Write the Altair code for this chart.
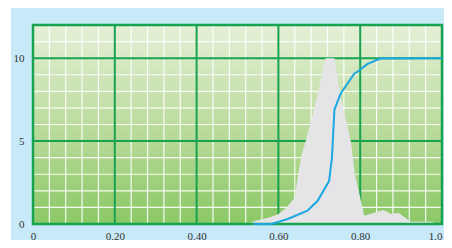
import altair as alt
import pandas as pd

# ---- data ----
area_x = [0.52, 0.545, 0.58, 0.60, 0.62, 0.64, 0.648, 0.657, 0.667, 0.693, 0.715, 0.737,
          0.753, 0.768, 0.777, 0.787, 0.81, 0.83, 0.856, 0.876, 0.893, 0.924, 0.975, 0.985]
area_y = [0.0, 0.2, 0.4, 0.6, 1.0, 1.6, 3.0, 4.2, 5.0, 7.5, 10.0, 10.0,
          7.5, 6.0, 5.0, 3.0, 0.5, 0.65, 0.84, 0.6, 0.68, 0.14, 0.14, 0.0]

line_x = [0.54, 0.583, 0.623, 0.671, 0.696, 0.724, 0.731, 0.734, 0.737, 0.753, 0.785,
          0.80, 0.817, 0.849, 1.0]
line_y = [0.0, 0.0, 0.3, 0.8, 1.4, 2.6, 4.0, 5.5, 6.9, 7.9, 9.05, 9.3, 9.64, 9.98, 10.0]

x_ticks = [0, 0.2, 0.4, 0.6, 0.8, 1.0]
x_tick_labels = ["0", "0,20", "0,40", "0,60", "0,80", "1,0"]
y_ticks = [0, 5, 10]
x_minor = [0.04, 0.08, 0.12, 0.16, 0.24, 0.28, 0.32, 0.36, 0.44, 0.48, 0.52, 0.56,
           0.64, 0.68, 0.72, 0.76, 0.84, 0.88, 0.92, 0.96]
y_minor = [1, 2, 3, 4, 6, 7, 8, 9, 11]
x_major = [0.2, 0.4, 0.6, 0.8]
y_major = [5, 10]

W, H = 409, 199
PL, PT, PR, PB = 25, 17, 2, 16
FONT = "Liberation Sans Narrow"

xscale = alt.Scale(domain=[0, 1], nice=False, zero=False)
yscale = alt.Scale(domain=[0, 12], nice=False, zero=False)

label_arr = "[" + ",".join("'%s'" % s for s in x_tick_labels) + "]"
xaxis = alt.Axis(values=x_ticks, title=None, grid=False, domain=False, ticks=False,
                 labelExpr=label_arr + "[round(datum.value*5)]",
                 labelAlign={"expr": "datum.value == 1 ? 'right' : 'center'"},
                 labelFont=FONT, labelFontSize=11, labelColor="#333333",
                 labelPadding=6, labelFlush=False, labelOverlap=False, zindex=2)
yaxis = alt.Axis(values=y_ticks, title=None, grid=False, domain=False, ticks=False,
                 labelFont=FONT, labelFontSize=11, labelColor="#333333",
                 labelPadding=9, labelFlush=False, labelOverlap=False, zindex=2)


def X(field):
    return alt.X(field, type="quantitative", scale=xscale, axis=xaxis)


def Y(field):
    return alt.Y(field, type="quantitative", scale=yscale, axis=yaxis)


one = alt.Data(values=[{}])

bg = alt.Chart(one).mark_rect(color="#c7e9f8").encode(
    x=alt.value(-22), x2=alt.value(W + PR), y=alt.value(-PT), y2=alt.value(H + PB))

grad = alt.Chart(one).mark_rect(
    color={"gradient": "linear", "x1": 0, "x2": 0, "y1": 0, "y2": 1,
           "stops": [{"offset": 0, "color": "#e6f0d8"},
                     {"offset": 0.5, "color": "#bcdc9e"},
                     {"offset": 1, "color": "#8bc866"}]}
).encode(x=alt.value(0), x2=alt.value(W), y=alt.value(0), y2=alt.value(H))

minor_x = alt.Chart(pd.DataFrame({"v": x_minor})).mark_rule(
    color="white", strokeWidth=1.2, opacity=0.9).encode(x=X("v"))
minor_y = alt.Chart(pd.DataFrame({"v": y_minor})).mark_rule(
    color="white", strokeWidth=1.2, opacity=0.9).encode(y=Y("v"))
major_x = alt.Chart(pd.DataFrame({"v": x_major})).mark_rule(
    color="#17a34f", strokeWidth=2).encode(x=X("v"))
major_y = alt.Chart(pd.DataFrame({"v": y_major})).mark_rule(
    color="#17a34f", strokeWidth=2).encode(y=Y("v"))

area = alt.Chart(pd.DataFrame({"x": area_x, "y": area_y})).mark_area(
    color="#e5e5e7", opacity=1, interpolate="linear").encode(x=X("x"), y=Y("y"))

border = alt.Chart(one).mark_rect(filled=False, stroke="#17a34f", strokeWidth=2.5).encode(
    x=alt.value(0), x2=alt.value(W), y=alt.value(0), y2=alt.value(H))

line = alt.Chart(pd.DataFrame({"x": line_x, "y": line_y})).mark_line(
    color="#1aa7e2", strokeWidth=2).encode(x=X("x"), y=Y("y"))

chart = alt.layer(bg, grad, minor_x, minor_y, major_x, major_y, area, border, line).properties(
    width=W, height=H,
    autosize=alt.AutoSizeParams(type="none"),
    padding={"left": PL, "top": PT, "right": PR, "bottom": PB},
    background="white",
).configure_view(stroke=None)

chart.save("out.html", embed_options={"renderer": "svg", "actions": False})
